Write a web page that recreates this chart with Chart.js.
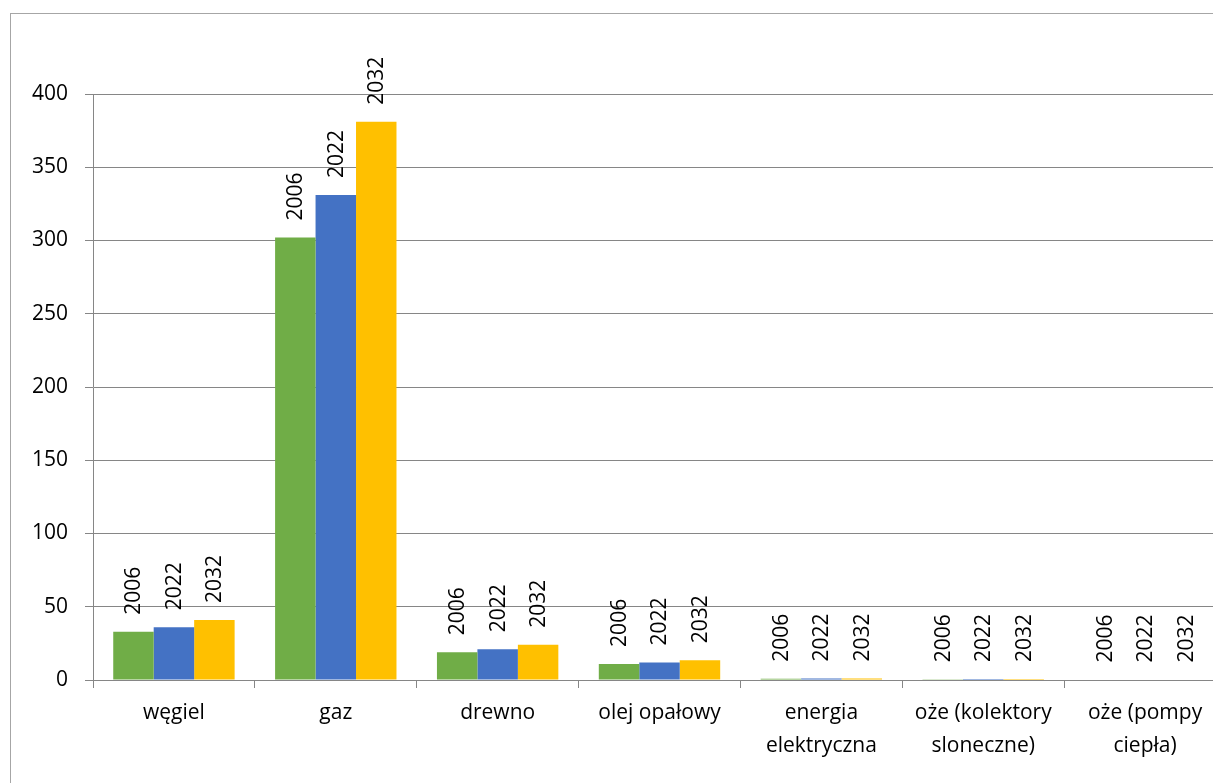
<!DOCTYPE html>
<html lang="pl">
<head>
<meta charset="utf-8">
<script src="https://cdn.jsdelivr.net/npm/chart.js@4"></script>
<style>
  html, body { margin:0; padding:0; background:#fff; overflow:hidden; }
  #frame { position:absolute; left:10px; top:13px; width:1300px; height:900px; border:1px solid #a6a6a6; }
  #wrap { position:absolute; left:0; top:0; }
</style>
</head>
<body>
<div id="frame"></div>
<div id="wrap"><canvas id="chart" width="1250" height="800"></canvas></div>
<script>
const categories = ['węgiel', 'gaz', 'drewno', 'olej opałowy', ['energia', 'elektryczna'], ['oże (kolektory', 'sloneczne)'], ['oże (pompy', 'ciepła)']];
const seriesNames = ['2006', '2022', '2032'];
const values2006 = [33, 302, 19, 11, 0.8, 0.5, 0.3];
const values2022 = [36, 331, 21, 12, 1.0, 0.7, 0.3];
const values2032 = [41, 381, 24, 13.5, 1.0, 0.7, 0.3];
const yTicks = [0, 50, 100, 150, 200, 250, 300, 350, 400];

const colors = ['#70AD47', '#4472C4', '#FFC000'];
const gridColor = '#868686';
const font = { family:'"Open Sans", sans-serif', size:21, lineHeight:1.55 };

// series name written vertically above each bar
const seriesLabels = {
  id:'seriesLabels',
  afterDatasetsDraw(chart){
    const ctx = chart.ctx;
    ctx.save();
    ctx.fillStyle = '#000';
    ctx.font = `${font.size}px ${font.family}`;
    ctx.textAlign = 'left';
    ctx.textBaseline = 'middle';
    chart.data.datasets.forEach((ds, di) => {
      chart.getDatasetMeta(di).data.forEach(bar => {
        ctx.save();
        ctx.translate(bar.x + 1, bar.y - 17);
        ctx.rotate(-Math.PI / 2);
        ctx.fillText(ds.label, 0, 0);
        ctx.restore();
      });
    });
    ctx.restore();
  }
};

new Chart(document.getElementById('chart'), {
  type:'bar',
  data:{
    labels:categories,
    datasets:[
      { label:seriesNames[0], data:values2006, backgroundColor:colors[0] },
      { label:seriesNames[1], data:values2022, backgroundColor:colors[1] },
      { label:seriesNames[2], data:values2032, backgroundColor:colors[2] }
    ]
  },
  options:{
    responsive:false,
    animation:false,
    layout:{ padding:{ top:94, right:24, left:0, bottom:0 } },
    datasets:{ bar:{ categoryPercentage:0.75, barPercentage:1 } },
    plugins:{ legend:{ display:false }, tooltip:{ enabled:false } },
    scales:{
      x:{
        offset:true,
        grid:{ offset:true, drawOnChartArea:false, drawTicks:true, tickLength:8, color:gridColor },
        border:{ color:gridColor },
        ticks:{ color:'#000', font:font, autoSkip:false, maxRotation:0, minRotation:0, padding:9 },
        afterFit(scale){ scale.height = 120; }
      },
      y:{
        min:0, max:400,
        afterBuildTicks(scale){ scale.ticks = yTicks.map(v => ({ value:v })); },
        grid:{ color:gridColor, tickLength:8 },
        border:{ color:gridColor },
        ticks:{ color:'#000', font:{ family:font.family, size:font.size }, padding:17 },
        afterFit(scale){ scale.width = 93; }
      }
    }
  },
  plugins:[seriesLabels]
});
</script>
</body>
</html>
